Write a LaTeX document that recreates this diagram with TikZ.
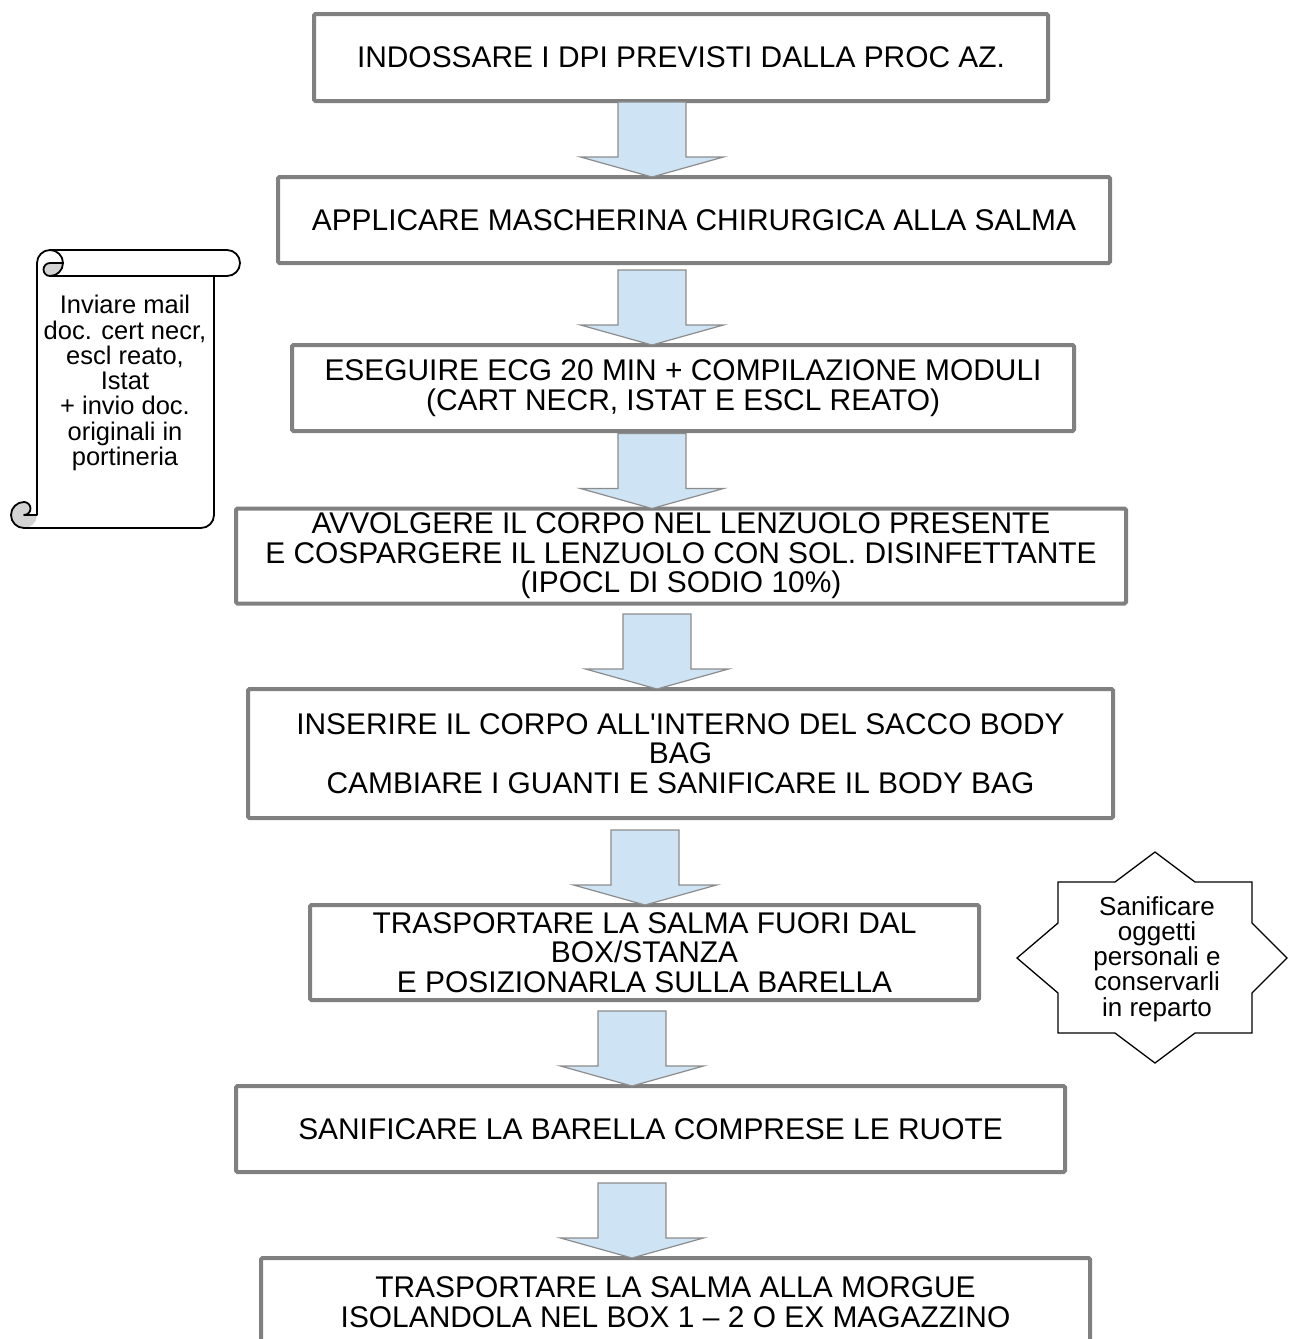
\documentclass[tikz,border=0pt]{standalone}
\usepackage{fontspec}
\setmainfont{Liberation Sans}[Ligatures=TeXOff]

\definecolor{boxgray}{RGB}{128,128,128}
\definecolor{arrowblue}{RGB}{206,227,243}
\definecolor{arrowline}{RGB}{140,140,140}
\definecolor{curlgray}{RGB}{211,211,211}

\tikzset{
  stepbox/.style={draw=boxgray, line width=4pt, rounded corners=1.5pt, outer sep=0pt,
    inner sep=0pt, align=center, font=\fontsize{29.9}{29.5}\selectfont},
  blockarrow/.style={fill=arrowblue, draw=arrowline, line width=1.2pt},
  notetext/.style={align=center, inner sep=0pt},
  scrollline/.style={draw=black, line width=1.8pt, line join=round},
}

\begin{document}
\begin{tikzpicture}[x=1pt,y=-1pt]
	\useasboundingbox (0,0) rectangle (1290,1339);
	% main steps
	\node[stepbox, minimum width=734, minimum height=87] (b1) at (681,57.5) {INDOSSARE I DPI PREVISTI DALLA PROC AZ.};
	\node[stepbox, minimum width=832, minimum height=86] (b2) at (694,220) {APPLICARE MASCHERINA CHIRURGICA ALLA SALMA};
	\node[stepbox, minimum width=782, minimum height=86] (b3) at (683,388) {ESEGUIRE ECG 20 MIN + COMPILAZIONE MODULI\\(CART NECR, ISTAT E ESCL REATO)};
	\node[stepbox, minimum width=890, minimum height=95] (b4) at (681,556) {AVVOLGERE IL CORPO NEL LENZUOLO PRESENTE\\E COSPARGERE IL LENZUOLO CON SOL. DISINFETTANTE\\(IPOCL DI SODIO 10\%)};
	\node[stepbox, minimum width=865, minimum height=129] (b5) at (680.5,753.5) {INSERIRE IL CORPO ALL'INTERNO DEL SACCO BODY\\BAG\\CAMBIARE I GUANTI E SANIFICARE IL BODY BAG};
	\node[stepbox, minimum width=669, minimum height=95] (b6) at (644.5,952.5) {TRASPORTARE LA SALMA FUORI DAL\\BOX/STANZA\\E POSIZIONARLA SULLA BARELLA};
	\node[stepbox, minimum width=829, minimum height=86] (b7) at (650.5,1129) {SANIFICARE LA BARELLA COMPRESE LE RUOTE};
	\node[stepbox, minimum width=829, minimum height=88] (b8) at (675.5,1302) {TRASPORTARE LA SALMA ALLA MORGUE\\ISOLANDOLA NEL BOX 1 – 2 O EX MAGAZZINO};

	% block arrows, tip on the next box
	\foreach \ax/\to in {652/b2, 652/b3, 652/b4, 657/b5, 645/b6, 632/b7, 632/b8}
		\draw[blockarrow, shift={(\ax,0 |- \to.north)}] (-34,-75) -- (34,-75) -- (34,-20) -- (71.5,-20) -- (0,0) -- (-71.5,-20) -- (-34,-20) -- cycle;

	% scroll note
	\node[notetext, font=\fontsize{25.5}{25.3}\selectfont] (posta) at (125,383) {Inviare mail\\doc. cert necr,\\escl reato,\\Istat\\+ invio doc.\\originali in\\portineria};
	\fill[curlgray] (63,263) arc[start angle=0,end angle=90,radius=13] arc[start angle=90,end angle=270,radius=6.5] -- cycle;
	\fill[curlgray] (37,515) arc[start angle=0,end angle=270,radius=13] arc[start angle=270,end angle=450,radius=6.5] -- cycle;
	\draw[scrollline] (37,515) -- (37,263) arc[start angle=180,end angle=270,radius=13] -- (227,250)
		arc[start angle=270,end angle=450,radius=13] -- (214,276) -- (214,515)
		arc[start angle=0,end angle=90,radius=13] -- (24,528)
		arc[start angle=90,end angle=270,radius=13] arc[start angle=270,end angle=450,radius=6.5] -- cycle;
	\draw[scrollline] (50,250) arc[start angle=270,end angle=450,radius=13] arc[start angle=90,end angle=270,radius=6.5] -- (63,263);
	\draw[scrollline] (214,276) -- (50,276);

	% star note
	\node[notetext, font=\fontsize{26}{25.2}\selectfont] (sanif) at (1157,959) {Sanificare\\oggetti\\personali e\\conservarli\\in reparto};
	\draw[line width=1.3pt, shift={(1155,958)}] (0,-106) -- (40,-76) -- (97,-76) -- (97,-35) -- (132,0) -- (97,35) -- (97,75) -- (40,75)
		-- (0,105) -- (-40,75) -- (-97,75) -- (-97,35) -- (-138,0) -- (-97,-35) -- (-97,-76) -- (-40,-76) -- cycle;
\end{tikzpicture}
\end{document}
